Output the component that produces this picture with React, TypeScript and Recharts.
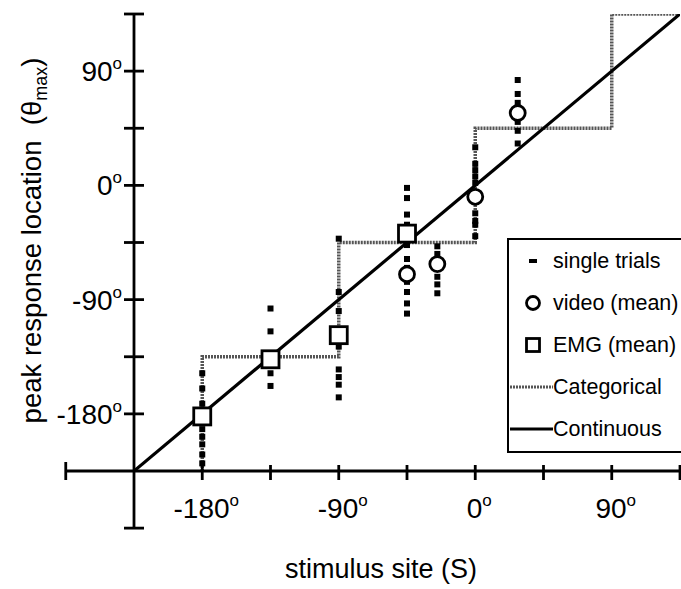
import React from "react";
import {
  ComposedChart,
  Line,
  Scatter,
  XAxis,
  YAxis,
  ReferenceLine,
  ReferenceDot,
  Legend,
  Label,
} from "recharts";

const FONT = "'Liberation Sans', Arial, Helvetica, sans-serif";

// stimulus sites and the peak location of every single trial at that site (deg)
const trialSites = [-180, -135, -90, -45, -25, 0, 28];
const trialPeaks = [
  [-148, -160, -172, -186, -192, -198, -204, -212, -219],
  [-97, -115, -148, -158],
  [-42, -84, -99, -127, -145, -151, -157, -167],
  [-2, -10, -23, -31, -47, -58, -65, -76, -84, -93, -101],
  [-48, -54, -72, -78, -85],
  [30, 17, 12, 7, 2, -22, -28, -31, -40],
  [83, 72, 65, 50, 43, 33],
];

// means
const videoSites = [-45, -25, 0, 28];
const videoPeaks = [-70, -62, -9, 57];
const emgSites = [-180, -135, -90, -45];
const emgPeaks = [-182, -137, -118, -38];

// model predictions
const categoricalX = [-180, -180, -90, 0, 90, 135];
const categoricalY = [-225, -135, -45, 45, 135, 135];
const continuousX = [-225, 135];
const continuousY = [-225, 135];

const axisTicks = [-180, -135, -90, -45, 0, 45, 90, 135];
const labelledTicks = [-180, -90, 0, 90];

const trialData = trialSites.flatMap((s, i) => trialPeaks[i].map((p) => ({ x: s, y: p })));
const videoData = videoSites.map((s, i) => ({ x: s, y: videoPeaks[i] }));
const emgData = emgSites.map((s, i) => ({ x: s, y: emgPeaks[i] }));
const categoricalData = categoricalX.map((s, i) => ({ x: s, y: categoricalY[i] }));
const continuousData = continuousX.map((s, i) => ({ x: s, y: continuousY[i] }));

const GREY = "#555";

const TrialMark = (props: any) => (
  <rect x={props.cx - 3} y={props.cy - 3} width={6} height={6} fill="#000" />
);
const CircleMark = (props: any) => (
  <circle cx={props.cx} cy={props.cy} r={7.5} fill="#fff" stroke="#000" strokeWidth={2.8} />
);
const SquareMark = (props: any) => (
  <rect x={props.cx - 8.5} y={props.cy - 8.5} width={17} height={17} fill="#fff" stroke="#000" strokeWidth={2.8} />
);

const tickText = (v: number) => String(v);

const XTick = (props: any) => {
  const { x, y, payload } = props;
  const v = payload.value;
  return (
    <g>
      <line x1={x} x2={x} y1={y - 6} y2={y + 9} stroke="#000" strokeWidth={2.8} />
      {labelledTicks.includes(v) && (
        <text x={x + 4} y={y + 47} textAnchor="middle" fontFamily={FONT} fontSize={28} fill="#000">
          {tickText(v)}
          <tspan dy={-12} fontSize={17}>o</tspan>
        </text>
      )}
    </g>
  );
};

const YTick = (props: any) => {
  const { x, y, payload } = props;
  const v = payload.value;
  return (
    <g>
      <line x1={x - 10} x2={x + 10} y1={y} y2={y} stroke="#000" strokeWidth={2.8} />
      {labelledTicks.includes(v) && (
        <text x={x - 12} y={y + 10} textAnchor="end" fontFamily={FONT} fontSize={28} fill="#000">
          {tickText(v)}
          <tspan dy={-12} fontSize={17}>o</tspan>
        </text>
      )}
    </g>
  );
};

const HCap = (props: any) => (
  <line x1={props.cx - 10} x2={props.cx + 10} y1={props.cy} y2={props.cy} stroke="#000" strokeWidth={2.8} />
);
const VCap = (props: any) => (
  <line x1={props.cx} x2={props.cx} y1={props.cy - 9} y2={props.cy + 9} stroke="#000" strokeWidth={2.8} />
);

const legendItems = [
  { label: "single trials", kind: "trial" },
  { label: "video (mean)", kind: "circle" },
  { label: "EMG (mean)", kind: "square" },
  { label: "Categorical", kind: "categorical" },
  { label: "Continuous", kind: "continuous" },
];

const LegendSymbol = ({ kind }: { kind: string }) => (
  <svg width={44} height={42} style={{ display: "block", flex: "none" }}>
    {kind === "trial" && <rect x={20} y={19} width={8} height={4} fill="#000" />}
    {kind === "circle" && <circle cx={24} cy={21} r={6.5} fill="#fff" stroke="#000" strokeWidth={2.8} />}
    {kind === "square" && <rect x={17.5} y={14.5} width={13} height={13} fill="#fff" stroke="#000" strokeWidth={2.8} />}
    {kind === "categorical" && (
      <line x1={1} x2={44} y1={21} y2={21} stroke={GREY} strokeWidth={3.2} strokeDasharray="2 1" />
    )}
    {kind === "continuous" && <line x1={1} x2={44} y1={21} y2={21} stroke="#000" strokeWidth={3} />}
  </svg>
);

const renderLegend = () => (
  <div
    style={{
      border: "2.5px solid #000",
      borderRight: "none",
      width: 174,
      height: 215,
      boxSizing: "border-box",
      background: "#fff",
      fontFamily: FONT,
      fontSize: 21.5,
      color: "#000",
    }}
  >
    {legendItems.map((it) => (
      <div key={it.label} style={{ display: "flex", alignItems: "center", height: 42, whiteSpace: "nowrap" }}>
        <LegendSymbol kind={it.kind} />
        <span>{it.label}</span>
      </div>
    ))}
  </div>
);

const YTitle = (props: any) => {
  const vb = props.viewBox;
  const cy = vb.y + vb.height / 2 - 2;
  const cx = 41;
  return (
    <text
      x={cx}
      y={cy}
      transform={`rotate(-90, ${cx}, ${cy})`}
      textAnchor="middle"
      fontFamily={FONT}
      fontSize={27.5}
      fill="#000"
      style={{ whiteSpace: "pre" }}
    >
      {"peak response location  (θ"}
      <tspan dy={6} fontSize={18}>max</tspan>
      <tspan dy={-6}>)</tspan>
    </text>
  );
};

const XTitle = (props: any) => {
  const vb = props.viewBox;
  return (
    <text
      x={vb.x + vb.width / 2 - 26}
      y={vb.y + 107}
      textAnchor="middle"
      fontFamily={FONT}
      fontSize={27}
      fill="#000"
    >
      stimulus site (S)
    </text>
  );
};

export default function App() {
  return (
    <div style={{ position: "absolute", left: 0, top: 0, background: "#fff" }}>
      <ComposedChart width={681} height={589} margin={{ top: 14, right: 1, bottom: 0, left: 0 }}>
        <XAxis
          type="number"
          dataKey="x"
          domain={[-225, 135]}
          allowDataOverflow
          ticks={axisTicks}
          interval={0}
          height={118}
          tickSize={0}
          tickMargin={0}
          tickLine={false}
          axisLine={{ stroke: "#000", strokeWidth: 2.8 }}
          tick={<XTick />}
        >
          <Label content={<XTitle />} />
        </XAxis>
        <YAxis
          type="number"
          dataKey="y"
          domain={[-225, 135]}
          allowDataOverflow
          ticks={axisTicks}
          interval={0}
          width={134}
          tickSize={0}
          tickMargin={0}
          tickLine={false}
          axisLine={{ stroke: "#000", strokeWidth: 2.8 }}
          tick={<YTick />}
        >
          <Label content={<YTitle />} />
        </YAxis>

        {/* axis extensions below / left of the crossing point */}
        <ReferenceLine
          segment={[{ x: -270, y: -225 }, { x: -225, y: -225 }]}
          stroke="#000"
          strokeWidth={2.8}
          ifOverflow="visible"
        />
        <ReferenceLine
          segment={[{ x: -225, y: -270 }, { x: -225, y: -225 }]}
          stroke="#000"
          strokeWidth={2.8}
          ifOverflow="visible"
        />
        <ReferenceDot x={-270} y={-225} ifOverflow="visible" shape={<VCap />} />
        <ReferenceDot x={-225} y={-270} ifOverflow="visible" shape={<HCap />} />

        <Line
          data={categoricalData}
          dataKey="y"
          type="stepAfter"
          stroke={GREY}
          strokeWidth={3.5}
          strokeDasharray="2 1"
          dot={false}
          activeDot={false}
          isAnimationActive={false}
        />
        <Line
          data={continuousData}
          dataKey="y"
          type="linear"
          stroke="#000"
          strokeWidth={3.2}
          dot={false}
          activeDot={false}
          isAnimationActive={false}
        />
        <Scatter data={trialData} dataKey="y" shape={<TrialMark />} isAnimationActive={false} />
        <Scatter data={emgData} dataKey="y" shape={<SquareMark />} isAnimationActive={false} />
        <Scatter data={videoData} dataKey="y" shape={<CircleMark />} isAnimationActive={false} />

        <Legend
          layout="horizontal"
          verticalAlign="middle"
          align="center"
          content={renderLegend}
          wrapperStyle={{ position: "absolute", left: 507, top: 238, width: 174, height: 215 }}
        />
      </ComposedChart>
    </div>
  );
}
